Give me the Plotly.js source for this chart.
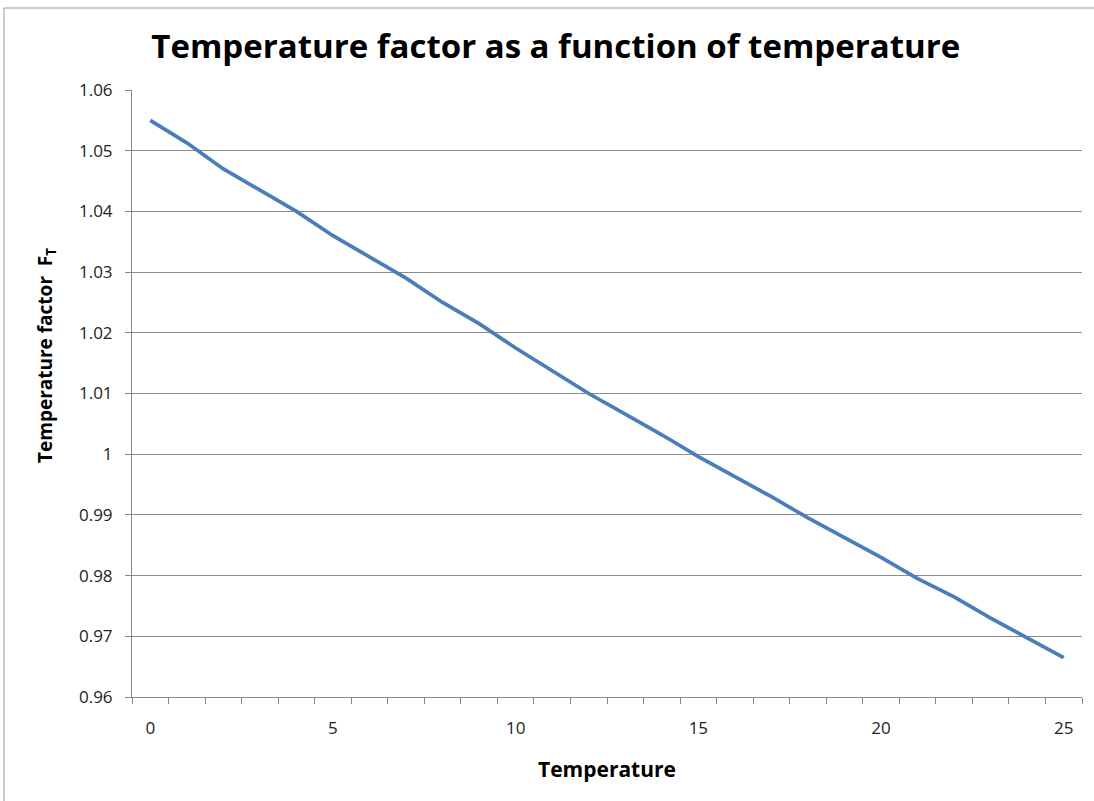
<!DOCTYPE html>
<html>
<head>
<meta charset="utf-8">
<script src="https://cdn.plot.ly/plotly-3.0.1.min.js"></script>
<style>html,body{margin:0;padding:0;background:#fff;}#chart{width:1094px;height:801px;}</style>
</head>
<body>
<div id="chart"></div>
<script>
const temperatures = [0,1,2,3,4,5,6,7,8,9,10,11,12,13,14,15,16,17,18,19,20,21,22,23,24,25];
const factorFT = [1.055,1.0513,1.047,1.0435,1.040,1.036,1.0325,1.029,1.025,1.0215,1.0175,1.0137,1.010,1.0066,1.0032,0.9996,0.9963,0.993,0.9895,0.9862,0.983,0.9795,0.9765,0.973,0.9698,0.9665];
const xTickLabels = ['0','5','10','15','20','25'];
const xTickValues = [0,5,10,15,20,25];
const yTickValues = [0.96,0.97,0.98,0.99,1,1.01,1.02,1.03,1.04,1.05,1.06];
const yTickLabels = ['0.96','0.97','0.98','0.99','1','1.01','1.02','1.03','1.04','1.05','1.06'];
const chartTitle = 'Temperature factor as a function of temperature';
const xTitle = 'Temperature';
const yTitle = 'Temperature factor  F<sub>T</sub>';

const W = 1094, H = 801, L = 132, R = 12, T = 90, B = 104;
const pw = W - L - R, ph = H - T - B;
const px = v => (v - L) / pw;
const py = v => 1 - (v - T) / ph;

const trace = {
  x: temperatures, y: factorFT, type: 'scatter', mode: 'lines',
  line: {color: '#4a7ebb', width: 3.7}, hoverinfo: 'skip'
};

const layout = {
  width: W, height: H,
  margin: {l: L, r: R, t: T, b: B},
  paper_bgcolor: '#ffffff', plot_bgcolor: '#ffffff',
  font: {family: 'Open Sans, Noto Sans, sans-serif', color: '#222'},
  showlegend: false,
  title: {
    text: '<b>' + chartTitle + '</b>',
    font: {size: 33, color: '#000', family: 'Open Sans, sans-serif'},
    x: 0.508, xanchor: 'center', y: 1 - 46/H, yanchor: 'middle'
  },
  xaxis: {
    range: [-0.5, 25.5], tickvals: xTickValues, ticktext: xTickLabels,
    ticks: '', ticklabelstandoff: 16,
    minor: {tick0: 0.5, dtick: 1, ticks: 'outside', ticklen: 6, tickcolor: '#888', showgrid: false},
    showgrid: false, zeroline: false, showline: true, linecolor: '#888', linewidth: 1,
    tickfont: {size: 17, color: '#222'},
    title: {text: '<b>' + xTitle + '</b>', font: {size: 21, color: '#000'}, standoff: 23}
  },
  yaxis: {
    range: [0.96, 1.06], tickvals: yTickValues, ticktext: yTickLabels,
    ticks: 'outside', ticklen: 6, tickcolor: '#888', ticklabelstandoff: 9,
    showgrid: true, gridcolor: '#8c8c8c', gridwidth: 1,
    zeroline: false, showline: true, linecolor: '#888', linewidth: 1,
    tickfont: {size: 17, color: '#222'}
  },
  annotations: [
    {text: '<b>' + yTitle + '</b>', xref: 'paper', yref: 'paper', x: px(46), y: py(356),
     xanchor: 'center', yanchor: 'middle', textangle: -90, showarrow: false,
     font: {size: 19, color: '#000'}}
  ],
  shapes: [
    {type: 'line', xref: 'paper', yref: 'paper', x0: px(4), x1: px(4), y0: py(8), y1: py(805), line: {color: '#999', width: 1}},
    {type: 'line', xref: 'paper', yref: 'paper', x0: px(4), x1: px(1100), y0: py(8), y1: py(8), line: {color: '#999', width: 1}}
  ]
};

Plotly.newPlot('chart', [trace], layout, {staticPlot: true, displayModeBar: false});
</script>
</body>
</html>
